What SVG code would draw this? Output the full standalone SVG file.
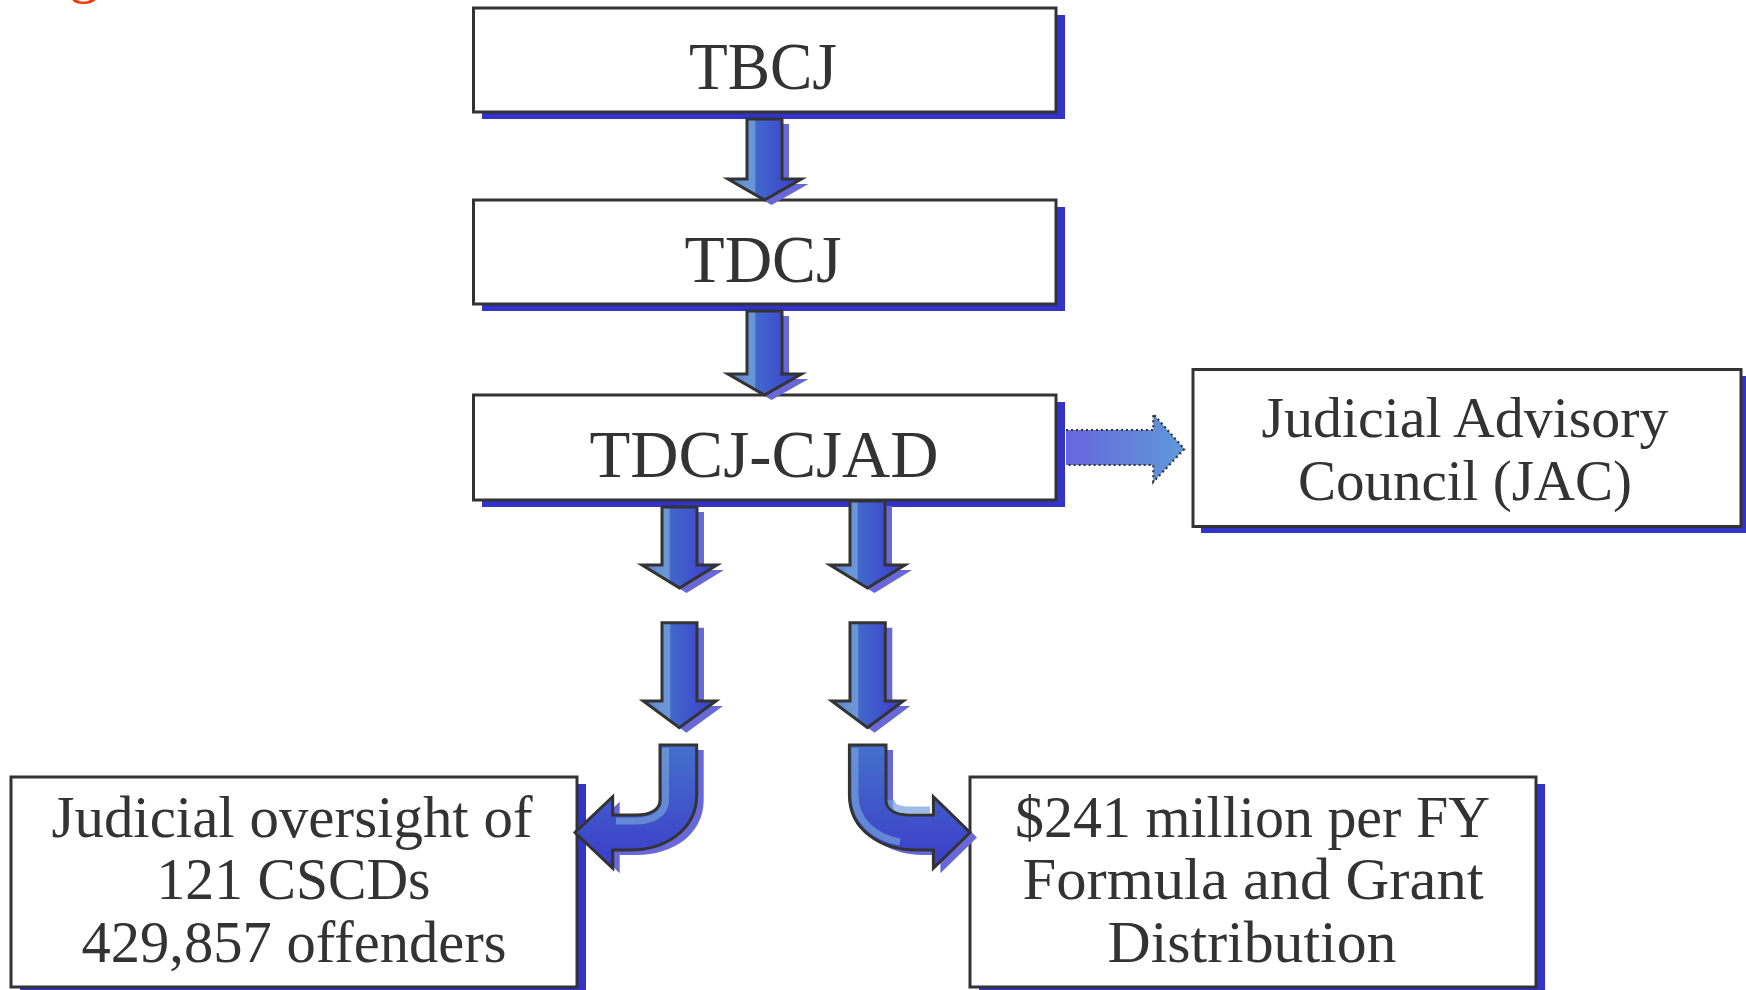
<svg xmlns="http://www.w3.org/2000/svg" width="1746" height="990" viewBox="0 0 1746 990">
<style>
.box{fill:#ffffff;stroke:#333333;stroke-width:3}
.shadow{fill:#3333cc}
.t{font-family:"Liberation Serif","Times New Roman",serif;fill:#333333;text-anchor:middle}
.big{font-size:68px}
.mid{font-size:60px}
.jac{font-size:57px}
.arr{fill:url(#gH);stroke:#333333;stroke-width:3;stroke-linejoin:miter}
.elb{fill:url(#gV);stroke:#333333;stroke-width:3}
.ash{fill:#6868d8}
.hl{fill:none;stroke:#74a0da;stroke-width:7;opacity:0.7}
</style>
<defs>
<linearGradient id="gH" x1="0" y1="0" x2="1" y2="0">
<stop offset="0" stop-color="#4f7bd2"/>
<stop offset="0.25" stop-color="#6a96d8"/>
<stop offset="0.36" stop-color="#6a96d8"/>
<stop offset="0.38" stop-color="#4268cc"/>
<stop offset="1" stop-color="#3a3acb"/>
</linearGradient>
<linearGradient id="gV" x1="0" y1="0" x2="0" y2="1">
<stop offset="0" stop-color="#4470cc"/>
<stop offset="1" stop-color="#3c3cc8"/>
</linearGradient>
<linearGradient id="gD" x1="0" y1="0" x2="1" y2="0">
<stop offset="0" stop-color="#6666dd"/>
<stop offset="1" stop-color="#6099d8"/>
</linearGradient>
</defs>
<rect width="1746" height="990" fill="#ffffff"/>
<text x="84" y="-9" font-family="Liberation Serif, serif" font-size="60" fill="#ff3300" text-anchor="middle">g</text>

<g id="node-tbcj">
<rect class="shadow" x="482" y="15" width="583" height="104"/>
<rect class="box" x="473.5" y="8" width="582.5" height="104"/>
<text class="t big" x="763" y="89" textLength="148" lengthAdjust="spacingAndGlyphs">TBCJ</text>
</g>
<g id="node-tdcj">
<rect class="shadow" x="482" y="207" width="583" height="104"/>
<rect class="box" x="473.5" y="200" width="582.5" height="104"/>
<text class="t big" x="763" y="282" textLength="157" lengthAdjust="spacingAndGlyphs">TDCJ</text>
</g>
<g id="node-cjad">
<rect class="shadow" x="482" y="402" width="583" height="105"/>
<rect class="box" x="473.5" y="395" width="582.5" height="105"/>
<text class="t big" x="764" y="477" textLength="349" lengthAdjust="spacingAndGlyphs">TDCJ-CJAD</text>
</g>
<g id="node-jac">
<rect class="shadow" x="1201" y="376" width="560" height="157"/>
<rect class="box" x="1193" y="369.5" width="548" height="157"/>
<text class="t jac" x="1465" y="437" textLength="407" lengthAdjust="spacingAndGlyphs">Judicial Advisory</text>
<text class="t jac" x="1465" y="500" textLength="334" lengthAdjust="spacingAndGlyphs">Council (JAC)</text>
</g>
<g id="node-oversight">
<rect class="shadow" x="20" y="784" width="566" height="215"/>
<rect class="box" x="11" y="777" width="566" height="210"/>
<text class="t mid" x="292" y="837" textLength="481" lengthAdjust="spacingAndGlyphs">Judicial oversight of</text>
<text class="t mid" x="293.5" y="899" textLength="274" lengthAdjust="spacingAndGlyphs">121 CSCDs</text>
<text class="t mid" x="294" y="962" textLength="425" lengthAdjust="spacingAndGlyphs">429,857 offenders</text>
</g>
<g id="node-funding">
<rect class="shadow" x="979" y="784" width="566" height="215"/>
<rect class="box" x="970" y="777" width="566" height="210"/>
<text class="t mid" x="1252.5" y="837" textLength="475" lengthAdjust="spacingAndGlyphs">$241 million per FY</text>
<text class="t mid" x="1253" y="899" textLength="461" lengthAdjust="spacingAndGlyphs">Formula and Grant</text>
<text class="t mid" x="1252" y="962" textLength="289" lengthAdjust="spacingAndGlyphs">Distribution</text>
</g>

<g id="connectors">
<path class="ash" transform="translate(7,5)" d="M747,119 L782,119 L782,179 L801.5,179 L764.5,200 L728,179 L747,179 Z"/>
<path class="arr" d="M747,119 L782,119 L782,179 L801.5,179 L764.5,200 L728,179 L747,179 Z"/>
<path class="ash" transform="translate(7,5)" d="M747,311 L782,311 L782,374 L801.5,374 L764.5,395 L728,374 L747,374 Z"/>
<path class="arr" d="M747,311 L782,311 L782,374 L801.5,374 L764.5,395 L728,374 L747,374 Z"/>
<path fill="url(#gD)" d="M1066,430 L1153.3,430 L1153.3,414 L1184.3,449 L1153.3,482 L1153.3,465 L1066,465 Z"/>
<path fill="none" stroke="#333333" stroke-width="2.2" stroke-dasharray="2 3" d="M1066,430 L1153.3,430 L1153.3,414 L1184.3,449 L1153.3,482 L1153.3,465 L1066,465"/>
<path class="ash" transform="translate(7,5)" d="M662,507 L697,507 L697,565 L717,565 L679.5,588 L642,565 L662,565 Z"/>
<path class="arr" d="M662,507 L697,507 L697,565 L717,565 L679.5,588 L642,565 L662,565 Z"/>
<path class="ash" transform="translate(7,5)" d="M850,501 L885,501 L885,565 L905,565 L867.5,588 L830,565 L850,565 Z"/>
<path class="arr" d="M850,501 L885,501 L885,565 L905,565 L867.5,588 L830,565 L850,565 Z"/>
<path class="ash" transform="translate(7,5)" d="M662,622.7 L697,622.7 L697,701 L716,701 L679.3,727.7 L643.3,701 L662,701 Z"/>
<path class="arr" d="M662,622.7 L697,622.7 L697,701 L716,701 L679.3,727.7 L643.3,701 L662,701 Z"/>
<path class="ash" transform="translate(7,5)" d="M850,622.7 L885.3,622.7 L885.3,701 L903.3,701 L867.5,727.7 L831.7,701 L850,701 Z"/>
<path class="arr" d="M850,622.7 L885.3,622.7 L885.3,701 L903.3,701 L867.5,727.7 L831.7,701 L850,701 Z"/>
<path class="ash" transform="translate(7,5)" d="M660,745 L696.7,745 L696.7,795 C696.7,830 665,850 630,850 L612.7,850 L612.7,868.3 L575,832.5 L612.7,796.7 L612.7,815 L636,815 C650,815 660,810 660,800 Z"/>
<path class="elb" d="M660,745 L696.7,745 L696.7,795 C696.7,830 665,850 630,850 L612.7,850 L612.7,868.3 L575,832.5 L612.7,796.7 L612.7,815 L636,815 C650,815 660,810 660,800 Z"/>
<path class="hl" d="M665.5,748 L665.5,800 C665.5,814 652,821 636,821 L616,821"/>
<path class="ash" transform="translate(7,5)" d="M886,745 L849.4,745 L849.4,795 C849.4,830 881,850 916,850 L933.4,850 L933.4,868.3 L970,832.5 L933.4,796.7 L933.4,815 L910,815 C896,815 886,810 886,800 Z"/>
<path class="elb" d="M886,745 L849.4,745 L849.4,795 C849.4,830 881,850 916,850 L933.4,850 L933.4,868.3 L970,832.5 L933.4,796.7 L933.4,815 L910,815 C896,815 886,810 886,800 Z"/>
<path class="hl" d="M855,748 L855,795 C855,822 876,838 900,842" opacity="0.45"/>
<path class="hl" d="M891,800 C891,807 897,810 910,810 L930,810" stroke-width="4" opacity="0.25"/>
</g>
</svg>
